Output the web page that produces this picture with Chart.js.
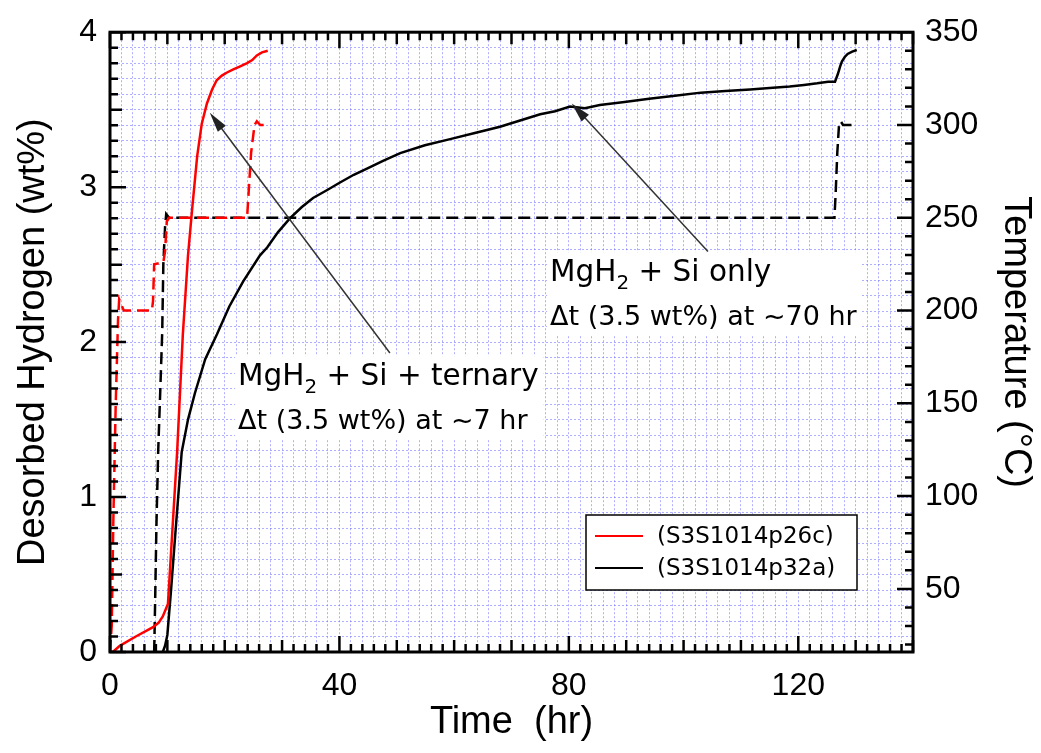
<!DOCTYPE html>
<html>
<head>
<meta charset="utf-8">
<script src="https://cdn.jsdelivr.net/npm/chart.js@4.4.1/dist/chart.umd.min.js"></script>
<style>
  html, body { margin: 0; padding: 0; background: #fff; }
</style>
</head>
<body>
<canvas id="myChart" width="1041" height="753"></canvas>
<script>
// S3S1014p26c: desorbed hydrogen (wt%)
const redTime = [0, 0.5, 1.7, 4.5, 7.5, 8.5, 9.2, 10.1, 11.7, 12.7, 13.6, 14.3, 15.2, 16.0, 16.9, 17.8, 18.6, 19.5, 20.4, 21.5, 22.7, 23.9, 24.8, 25.6, 26.5, 27.5];
const redH2 = [0, 0.0, 0.04, 0.10, 0.16, 0.19, 0.23, 0.31, 1.29, 2.05, 2.56, 2.85, 3.20, 3.41, 3.54, 3.63, 3.69, 3.72, 3.74, 3.76, 3.78, 3.80, 3.82, 3.85, 3.87, 3.88];

// S3S1014p26c: temperature (°C)
const redTempTime = [0, 0.3, 0.6, 1.0, 1.4, 1.6, 2.0, 2.4, 7.3, 7.5, 7.7, 9.3, 9.6, 9.9, 10.3, 23.9, 24.1, 24.6, 25.2, 25.6, 26.2, 27.5];
const redTemp = [16, 30, 90, 150, 195, 206, 203, 200, 200, 205, 225, 226, 232, 248, 250, 250, 260, 285, 300, 302, 300, 300];

// S3S1014p32a: desorbed hydrogen (wt%)
const blackTime = [9.2, 9.6, 10.0, 10.6, 11.3, 12.5, 13.6, 14.8, 16.6, 18.65, 20.8, 23.2, 26.15, 27.4, 29.3, 31.4, 33.4, 35.4, 37.8, 40.1, 42.5, 44.8, 47.6, 50.6, 54.9, 59.3, 63.6, 68, 71.5, 75, 77.6, 80.2, 82.8, 85.4, 89.7, 94, 98.5, 103, 107.3, 111.6, 115, 118.5, 121, 123.3, 125.2, 126.4, 126.9, 127.3, 127.6, 128.1, 128.6, 129.4, 130.2];
const blackH2 = [0, 0.04, 0.11, 0.38, 0.72, 1.29, 1.50, 1.67, 1.89, 2.05, 2.23, 2.39, 2.56, 2.61, 2.71, 2.80, 2.87, 2.93, 2.98, 3.03, 3.08, 3.12, 3.17, 3.22, 3.27, 3.31, 3.35, 3.39, 3.43, 3.47, 3.49, 3.52, 3.51, 3.53, 3.55, 3.57, 3.59, 3.61, 3.62, 3.63, 3.64, 3.65, 3.66, 3.67, 3.68, 3.68, 3.73, 3.78, 3.81, 3.84, 3.86, 3.875, 3.885];

// S3S1014p32a: temperature (°C)
const blackTempTime = [7.7, 7.85, 8.1, 8.4, 8.8, 9.1, 9.3, 9.6, 9.8, 10.3, 126.3, 126.5, 126.8, 127.1, 127.4, 127.8, 130.2];
const blackTemp = [16, 40, 85, 124, 160, 188, 225, 245, 252, 250, 250, 262, 285, 300, 302, 300, 300];

// tick labels
const timeTicks = [0, 40, 80, 120];
const h2Ticks = [0, 1, 2, 3, 4];
const tempTicks = [50, 100, 150, 200, 250, 300, 350];

const seriesNames = ['(S3S1014p26c)', '(S3S1014p32a)'];

// annotations: [text before sub, subscript, text after], second line
const noteTitles = [['MgH', '2', ' + Si + ternary'], ['MgH', '2', ' + Si only']];
const noteLines = ['\u0394t (3.5 wt%) at ~7 hr', '\u0394t (3.5 wt%) at ~70 hr'];
// box corner, arrow tail and tip, in (time, wt%)
const noteBox = [[21.8, 1.91], [76.2, 2.58]];
const arrowTail = [[48.8, 1.93], [104.25, 2.584]];
const arrowTip = [[17.4, 3.48], [80.5, 3.54]];

const points = (xs, ys) => xs.map((x, i) => ({ x: x, y: ys[i] }));

const tickFont = { family: "'Liberation Sans', Arial, sans-serif", size: 32 };
const titleFont = { family: "'Liberation Sans', Arial, sans-serif", size: 38 };
const noteFamily = "'DejaVu Sans', sans-serif";
const gridColor = 'rgba(110, 110, 255, 0.55)';

// frame and inward ticks
const frame = {
    id: 'frame',
    afterDatasetsDraw(chart) {
        const { ctx, chartArea: a, scales } = chart;
        ctx.save();
        ctx.strokeStyle = '#000';
        ctx.lineWidth = 2.5;
        ctx.beginPath();
        for (let t = 0; t <= 140; t += 2) {
            const px = scales.x.getPixelForValue(t);
            const len = t % 40 === 0 ? 16 : (t % 10 === 0 ? 12 : 8);
            ctx.moveTo(px, a.bottom); ctx.lineTo(px, a.bottom - len);
            ctx.moveTo(px, a.top); ctx.lineTo(px, a.top + len);
        }
        for (let i = 0; i <= 40; i++) {
            const py = scales.y.getPixelForValue(i / 10);
            const len = i % 10 === 0 ? 16 : (i % 5 === 0 ? 12 : 8);
            ctx.moveTo(a.left, py); ctx.lineTo(a.left + len, py);
        }
        for (let T = 20; T <= 350; T += 10) {
            const py = scales.y2.getPixelForValue(T);
            const len = T % 50 === 0 ? 16 : 8;
            ctx.moveTo(a.right, py); ctx.lineTo(a.right - len, py);
        }
        ctx.stroke();
        ctx.lineWidth = 3;
        ctx.strokeRect(a.left, a.top, a.right - a.left, a.bottom - a.top);
        ctx.restore();
    }
};

// text boxes with arrows
const notes = {
    id: 'notes',
    afterDatasetsDraw(chart) {
        const { ctx, scales } = chart;
        const px = p => [scales.x.getPixelForValue(p[0]), scales.y.getPixelForValue(p[1])];
        ctx.save();
        for (let i = 0; i < noteTitles.length; i++) {
            const [bx, by] = px(noteBox[i]);
            const [pre, sub, post] = noteTitles[i];
            ctx.font = '29.5px ' + noteFamily;
            const w1 = ctx.measureText(pre).width;
            ctx.font = '20px ' + noteFamily;
            const w2 = ctx.measureText(sub).width;
            ctx.font = '29.5px ' + noteFamily;
            const w3 = ctx.measureText(post).width;
            ctx.font = '27px ' + noteFamily;
            const w4 = ctx.measureText(noteLines[i]).width;
            const bw = Math.max(w1 + w2 + w3, w4) + 8;

            ctx.fillStyle = '#fff';
            ctx.fillRect(bx, by, bw, 83);

            ctx.fillStyle = '#000';
            ctx.textBaseline = 'alphabetic';
            ctx.font = '29.5px ' + noteFamily;
            ctx.fillText(pre, bx + 3, by + 29);
            ctx.font = '20px ' + noteFamily;
            ctx.fillText(sub, bx + 3 + w1, by + 37);
            ctx.font = '29.5px ' + noteFamily;
            ctx.fillText(post, bx + 3 + w1 + w2, by + 29);
            ctx.font = '27px ' + noteFamily;
            ctx.fillText(noteLines[i], bx + 3, by + 73);

            // arrow
            const [tx, ty] = px(arrowTail[i]);
            const [hx, hy] = px(arrowTip[i]);
            const ang = Math.atan2(hy - ty, hx - tx);
            ctx.strokeStyle = '#333';
            ctx.fillStyle = '#222';
            ctx.lineWidth = 1.5;
            ctx.beginPath();
            ctx.moveTo(tx, ty);
            ctx.lineTo(hx - 14 * Math.cos(ang), hy - 14 * Math.sin(ang));
            ctx.stroke();
            ctx.beginPath();
            ctx.moveTo(hx, hy);
            ctx.lineTo(hx - 20 * Math.cos(ang) + 5 * Math.sin(ang), hy - 20 * Math.sin(ang) - 5 * Math.cos(ang));
            ctx.lineTo(hx - 20 * Math.cos(ang) - 5 * Math.sin(ang), hy - 20 * Math.sin(ang) + 5 * Math.cos(ang));
            ctx.closePath();
            ctx.fill();
        }
        ctx.restore();
    }
};

// boxed legend in the lower right corner
const boxLegend = {
    id: 'boxLegend',
    afterDraw(chart) {
        const { ctx, chartArea: a } = chart;
        const left = a.right - 327;
        const top = a.bottom - 137;
        ctx.save();
        ctx.fillStyle = '#fff';
        ctx.fillRect(left, top, 271, 75);
        ctx.strokeStyle = '#000';
        ctx.lineWidth = 1.5;
        ctx.strokeRect(left, top, 271, 75);
        ctx.font = '23px ' + noteFamily;
        ctx.textBaseline = 'middle';
        chart.data.datasets.slice(0, 2).forEach((ds, i) => {
            const y = top + 21 + i * 32;
            ctx.strokeStyle = ds.borderColor;
            ctx.lineWidth = 2;
            ctx.beginPath();
            ctx.moveTo(left + 9, y);
            ctx.lineTo(left + 57, y);
            ctx.stroke();
            ctx.fillStyle = '#000';
            ctx.fillText(ds.label, left + 71, y + 1);
        });
        ctx.restore();
    }
};

const ctx = document.getElementById('myChart');

const myChart = new Chart(ctx, {
    type: 'scatter',
    data: {
        datasets: [
            {
                label: seriesNames[0],
                data: points(redTime, redH2),
                borderColor: '#ff0000',
                borderWidth: 2.5,
                showLine: true,
                pointRadius: 0,
                yAxisID: 'y'
            },
            {
                label: seriesNames[1],
                data: points(blackTime, blackH2),
                borderColor: '#000000',
                borderWidth: 2.5,
                showLine: true,
                pointRadius: 0,
                yAxisID: 'y'
            },
            {
                label: 'p26c temperature',
                data: points(redTempTime, redTemp),
                borderColor: '#ff0000',
                borderWidth: 2.5,
                borderDash: [12, 6],
                showLine: true,
                pointRadius: 0,
                yAxisID: 'y2'
            },
            {
                label: 'p32a temperature',
                data: points(blackTempTime, blackTemp),
                borderColor: '#000000',
                borderWidth: 2.5,
                borderDash: [12, 6],
                showLine: true,
                pointRadius: 0,
                yAxisID: 'y2'
            }
        ]
    },
    options: {
        responsive: false,
        animation: false,
        devicePixelRatio: 1,
        layout: { padding: { top: 25, left: 0, right: 0, bottom: 0 } },
        plugins: {
            legend: { display: false },
            tooltip: { enabled: false }
        },
        scales: {
            x: {
                type: 'linear',
                min: 0,
                max: 140,
                afterFit: s => { s.height = 101; },
                grid: { color: gridColor, lineWidth: 1, drawTicks: false },
                border: { display: false, dash: [2, 2] },
                ticks: {
                    stepSize: 2,
                    autoSkip: false,
                    maxRotation: 0,
                    padding: 15,
                    color: '#000',
                    font: tickFont,
                    callback: v => timeTicks.includes(v) ? v : ''
                },
                title: {
                    display: true,
                    text: 'Time  (hr)',
                    color: '#000',
                    font: titleFont,
                    padding: { top: 0, bottom: 8 }
                }
            },
            y: {
                position: 'left',
                min: 0,
                max: 4,
                afterFit: s => { s.width = 110; },
                grid: { color: gridColor, lineWidth: 1, drawTicks: false },
                border: { display: false, dash: [2, 2] },
                ticks: {
                    stepSize: 0.1,
                    autoSkip: false,
                    padding: 13,
                    color: '#000',
                    font: tickFont,
                    callback: v => {
                        const r = Math.round(v * 10) / 10;
                        return h2Ticks.includes(r) ? r : '';
                    }
                },
                title: {
                    display: true,
                    text: 'Desorbed Hydrogen (wt%)',
                    color: '#000',
                    font: titleFont,
                    padding: { top: 11, bottom: 0 }
                }
            },
            y2: {
                position: 'right',
                min: 16,
                max: 350,
                afterFit: s => { s.width = 128; },
                afterBuildTicks: s => { s.ticks = tempTicks.map(v => ({ value: v })); },
                grid: { drawOnChartArea: false, drawTicks: false },
                border: { display: false },
                ticks: {
                    autoSkip: false,
                    padding: 12,
                    color: '#000',
                    font: tickFont
                },
                title: {
                    display: true,
                    text: 'Temperature (\u00B0C)',
                    color: '#000',
                    font: titleFont,
                    padding: { top: 3, bottom: 0 }
                }
            }
        }
    },
    plugins: [frame, notes, boxLegend]
});
</script>
</body>
</html>
